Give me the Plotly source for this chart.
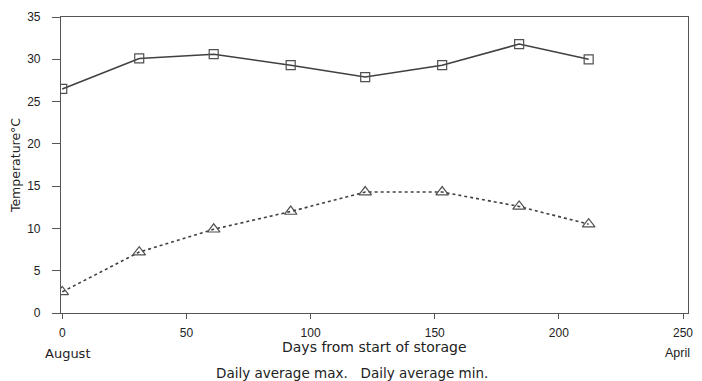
import plotly.graph_objects as go

days = [0, 31, 61, 92, 122, 153, 184, 212]
max_temp = [26.5, 30.1, 30.6, 29.3, 27.9, 29.3, 31.8, 30.0]
min_temp = [2.5, 7.2, 9.9, 12.0, 14.3, 14.3, 12.6, 10.5]
x_ticks = [0, 50, 100, 150, 200, 250]
y_ticks = [0, 5, 10, 15, 20, 25, 30, 35]

FONT = "Liberation Sans, Arial, sans-serif"
WIDE = "DejaVu Sans, Verdana, sans-serif"
INK = "#222"

# page body has an 8px offset; figure sized so the plot lands where the reference has it
W, H = 694, 373
L, R, T, B = 53, 14, 9, 68
PW = W - L - R
PH = H - T - B

fig = go.Figure()
fig.add_trace(go.Scatter(
    x=days, y=max_temp, mode="lines+markers", name="Daily average max.",
    line=dict(color="#404040", width=1.6),
    marker=dict(symbol="square-open", size=9, color="#505050", line=dict(width=1.2)),
))
fig.add_trace(go.Scatter(
    x=days, y=min_temp, mode="lines+markers", name="Daily average min.",
    line=dict(color="#404040", width=1.6, dash="3px,3px"),
    marker=dict(symbol="triangle-up-open", size=11, color="#505050", line=dict(width=1.2)),
))

fig.update_layout(
    width=W, height=H,
    margin=dict(l=L, r=R, t=T, b=B, autoexpand=False),
    paper_bgcolor="white", plot_bgcolor="white",
    showlegend=False,
    font=dict(family=FONT, color=INK, size=11),
)
fig.update_xaxes(
    range=[-0.5, 252], tickvals=x_ticks, ticks="outside", ticklen=5, tickcolor="#555",
    showline=True, linecolor="#555", linewidth=1.2, mirror=True, showgrid=False,
    zeroline=False, tickfont=dict(size=12, color=INK), ticklabelstandoff=3,
    automargin=False,
)
fig.update_yaxes(
    range=[0, 35], tickvals=y_ticks, ticks="outside", ticklen=8, tickcolor="#555",
    showline=True, linecolor="#555", linewidth=1.2, mirror=True, showgrid=False,
    zeroline=False, tickfont=dict(size=12, color=INK), ticklabelstandoff=9,
    title=dict(text="Temperature°C", font=dict(family=WIDE, size=12.5, color=INK), standoff=6),
    automargin=False,
)

def px_x(xw):
    return (xw - 8 - L) / PW

def px_y(yw):
    return (H - B - (yw - 8)) / PH

fig.add_annotation(text="Days from start of storage", xref="paper", yref="paper",
                   x=px_x(374), y=px_y(347), showarrow=False, yanchor="middle",
                   xanchor="center", font=dict(family=WIDE, size=14, color=INK))
fig.add_annotation(text="August", xref="paper", yref="paper",
                   x=px_x(68), y=px_y(353), showarrow=False, yanchor="middle",
                   xanchor="center", font=dict(family=WIDE, size=13, color=INK))
fig.add_annotation(text="April", xref="paper", yref="paper",
                   x=px_x(692), y=px_y(353), showarrow=False, yanchor="middle",
                   xanchor="right", font=dict(family=FONT, size=12.5, color=INK))
fig.add_annotation(text="Daily average max.   Daily average min.", xref="paper", yref="paper",
                   x=px_x(352), y=px_y(373), showarrow=False, yanchor="middle",
                   xanchor="center", font=dict(family=WIDE, size=13.5, color=INK))

fig.write_html("out.html")
